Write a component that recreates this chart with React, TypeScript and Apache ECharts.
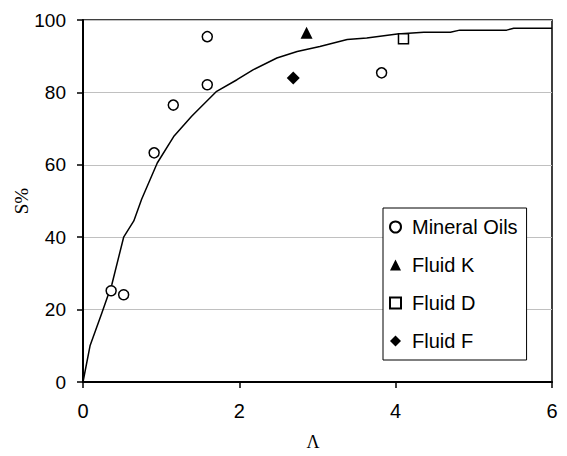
import React, { useEffect, useRef } from "react";
import * as echarts from "echarts";

const curveX = [0, 0.09, 0.24, 0.37, 0.52, 0.65, 0.75, 0.95, 1.16, 1.39, 1.71, 1.97, 2.18, 2.48, 2.74, 3.03, 3.38, 3.63, 4.02, 4.36, 4.7, 4.82, 5.42, 5.51, 6.0];
const curveY = [0, 10, 19, 27, 40, 44.5, 50.5, 60.5, 67.8, 73.4, 80.3, 83.5, 86.3, 89.5, 91.3, 92.7, 94.6, 95.0, 96.1, 96.6, 96.6, 97.2, 97.2, 97.7, 97.7];

const mineralX = [0.36, 0.52, 0.91, 1.155, 1.59, 1.59, 3.82];
const mineralY = [25.2, 24.1, 63.3, 76.5, 82.1, 95.4, 85.4];
const fluidK: [number, number][] = [[2.86, 96.5]];
const fluidD: [number, number][] = [[4.1, 94.8]];
const fluidF: [number, number][] = [[2.69, 84.0]];

const seriesNames = ["Mineral Oils", "Fluid K", "Fluid D", "Fluid F"];
const xTicks = [0, 2, 4, 6];
const yTicks = [0, 20, 40, 60, 80, 100];

const SANS = "'Liberation Sans', Arial, sans-serif";
const SERIF = "'Liberation Serif', 'Times New Roman', serif";

export default function App() {
  const ref = useRef<HTMLDivElement>(null);
  useEffect(() => {
    if (!ref.current) return;
    const chart = echarts.init(ref.current, undefined, { renderer: "svg" });
    chart.setOption({
      animation: false,
      backgroundColor: "#fff",
      grid: {
        left: 83,
        top: 20,
        right: 15,
        bottom: 74,
        containLabel: false,
        outerBoundsMode: "none",
        show: true,
        borderColor: "#000",
        borderWidth: 1.5,
        backgroundColor: "transparent",
      },
      legend: {
        orient: "vertical",
        left: 383,
        top: 208,
        data: seriesNames,
        backgroundColor: "#fff",
        borderColor: "#000",
        borderWidth: 1,
        padding: [9, 9, 9, 6],
        itemWidth: 11,
        itemHeight: 11,
        itemGap: 18,
        textStyle: {
          fontFamily: SANS,
          fontSize: 20,
          color: "#000",
          padding: [0, 0, 0, 6],
        },
      },
      xAxis: {
        type: "value",
        min: xTicks[0],
        max: xTicks[xTicks.length - 1],
        interval: 2,
        name: "Λ",
        nameLocation: "middle",
        nameGap: 51,
        nameMoveOverlap: false,
        nameTextStyle: { fontFamily: SERIF, fontSize: 18, color: "#000", padding: [0, 9, 0, 0] },
        axisLine: { show: true, onZero: false, lineStyle: { color: "#000", width: 2 } },
        axisTick: { show: true, length: 6, lineStyle: { color: "#000", width: 1.5 } },
        axisLabel: { fontFamily: SANS, fontSize: 20, color: "#000", margin: 19 },
        splitLine: { show: false },
      },
      yAxis: {
        type: "value",
        min: yTicks[0],
        max: yTicks[yTicks.length - 1],
        interval: 20,
        name: "S%",
        nameLocation: "middle",
        nameGap: 52,
        nameMoveOverlap: false,
        nameTextStyle: { fontFamily: SERIF, fontSize: 19, color: "#000" },
        axisLine: { show: true, onZero: false, lineStyle: { color: "#000", width: 2 } },
        axisTick: { show: true, length: 6, lineStyle: { color: "#000", width: 1.5 } },
        axisLabel: { fontFamily: SANS, fontSize: 19, color: "#000", margin: 17 },
        splitLine: { show: true, lineStyle: { color: "#c0c0c0", width: 1 } },
      },
      series: [
        {
          name: "curve",
          type: "line",
          data: curveX.map((x, i) => [x, curveY[i]]),
          showSymbol: false,
          symbol: "none",
          lineStyle: { color: "#000", width: 1.5 },
          z: 2,
        },
        {
          name: seriesNames[0],
          type: "scatter",
          data: mineralX.map((x, i) => [x, mineralY[i]]),
          symbol: "circle",
          symbolSize: 10,
          itemStyle: { color: "#fff", borderColor: "#000", borderWidth: 1.5, opacity: 1 },
          z: 3,
        },
        {
          name: seriesNames[1],
          type: "scatter",
          data: fluidK,
          symbol: "triangle",
          symbolSize: 12,
          itemStyle: { color: "#000", opacity: 1 },
          z: 3,
        },
        {
          name: seriesNames[2],
          type: "scatter",
          data: fluidD,
          symbol: "rect",
          symbolSize: 10,
          itemStyle: { color: "#fff", borderColor: "#000", borderWidth: 1.5, opacity: 1 },
          z: 3,
        },
        {
          name: seriesNames[3],
          type: "scatter",
          data: fluidF,
          symbol: "diamond",
          symbolSize: 13,
          itemStyle: { color: "#000", opacity: 1 },
          z: 3,
        },
      ],
    });
    return () => chart.dispose();
  }, []);
  return (
    <div
      ref={ref}
      style={{ position: "absolute", left: 0, top: 0, width: 567, height: 456 }}
    />
  );
}
